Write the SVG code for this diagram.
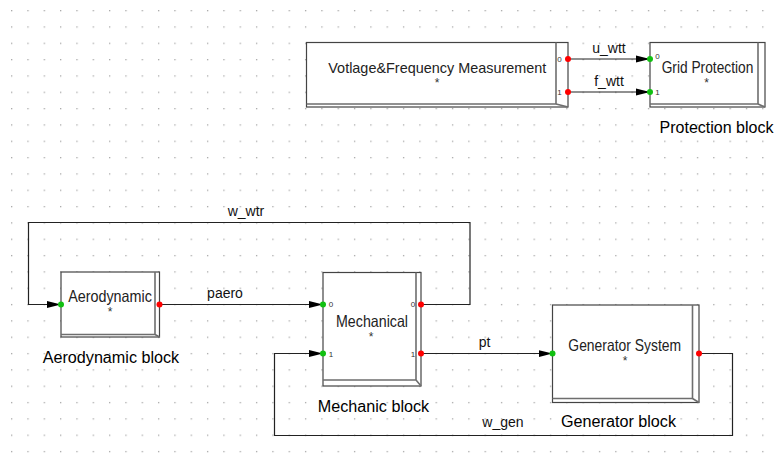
<svg xmlns="http://www.w3.org/2000/svg" width="775" height="464" viewBox="0 0 775 464">
<style>
.box{fill:#fff;stroke:#444;stroke-width:1.2}
.edge{fill:none;stroke:#6e6e6e;stroke-width:1.6}
.wire{fill:none;stroke:#222;stroke-width:1.2}
.bt{font-family:"Liberation Sans",Arial,sans-serif;font-size:16.5px;fill:#222;text-anchor:middle}
.st{font-family:"Liberation Sans",Arial,sans-serif;font-size:12px;fill:#333;text-anchor:middle}
.lb{font-family:"Liberation Sans",Arial,sans-serif;font-size:16px;fill:#000}
.cl{font-family:"Liberation Sans",Arial,sans-serif;font-size:14px;fill:#111;text-anchor:middle}
.pl{font-family:"Liberation Sans",Arial,sans-serif;font-size:8px;fill:#333;text-anchor:middle}
.in{fill:#11c011}
.out{fill:#f00}
</style>
<defs>
<pattern id="grid" patternUnits="userSpaceOnUse" x="11" y="10" width="16.33" height="16.33">
<rect x="0" y="0" width="1.3" height="1.3" fill="#a8a8a8"/>
</pattern>
<marker id="arr" markerUnits="userSpaceOnUse" markerWidth="16" markerHeight="10" refX="14" refY="4" orient="auto">
<path d="M0,0.5 L14,4 L0,7.5 Z" fill="#000"/>
</marker>
</defs>
<rect width="775" height="464" fill="#fff"/>
<rect width="775" height="464" fill="url(#grid)"/>

<g id="connectors">
<path class="wire" d="M568,59 H650" marker-end="url(#arr)"/>
<path class="wire" d="M568,92 H650" marker-end="url(#arr)"/>
<path class="wire" d="M159.5,304.5 H323" marker-end="url(#arr)"/>
<path class="wire" d="M421,353.5 H552.5" marker-end="url(#arr)"/>
<path class="wire" d="M421,304.5 H470 V222.5 H28.5 V304.5 H61" marker-end="url(#arr)"/>
<path class="wire" d="M699,353.5 H732.5 V435.5 H274.5 V353.5 H323" marker-end="url(#arr)"/>
<text class="cl" x="609" y="53">u_wtt</text>
<text class="cl" x="609" y="86">f_wtt</text>
<text class="cl" x="225" y="298">paero</text>
<text class="cl" x="484.5" y="347">pt</text>
<text class="cl" x="246" y="216">w_wtr</text>
<text class="cl" x="503" y="427">w_gen</text>
</g>

<g id="voltage">
<rect class="box" x="306.5" y="42.5" width="261.5" height="64.5"/>
<path class="edge" d="M556,42.5 V104 H306.5 M556,104 L568,107"/>
<text class="bt" x="437.3" y="73" style="font-size:15px" textLength="218" lengthAdjust="spacingAndGlyphs">Votlage&amp;Frequency Measurement</text>
<text class="st" x="437" y="86.5">*</text>
<text class="pl" x="559.5" y="62">0</text>
<text class="pl" x="559.5" y="95">1</text>
<circle class="out" cx="568" cy="59" r="3"/>
<circle class="out" cx="568" cy="92" r="3"/>
</g>

<g id="protection">
<rect class="box" x="650" y="42.5" width="115" height="64.5"/>
<path class="edge" d="M758,42.5 V104 H650 M758,104 L765,107"/>
<text class="bt" x="707.5" y="73" textLength="91.6" lengthAdjust="spacingAndGlyphs">Grid Protection</text>
<text class="st" x="706.7" y="87">*</text>
<text class="pl" x="657.5" y="59">0</text>
<text class="pl" x="657.5" y="95">1</text>
<circle class="in" cx="650" cy="59" r="3"/>
<circle class="in" cx="650" cy="92" r="3"/>
<text class="lb" x="659.5" y="132.7" textLength="114" lengthAdjust="spacingAndGlyphs">Protection block</text>
</g>

<g id="aerodynamic">
<rect class="box" x="61" y="272" width="98.5" height="65"/>
<path class="edge" d="M155,272 V334.5 H61 M155,334.5 L159.5,337"/>
<text class="bt" x="110" y="301.7" textLength="83.7" lengthAdjust="spacingAndGlyphs">Aerodynamic</text>
<text class="st" x="110" y="316">*</text>
<circle class="in" cx="61" cy="304.5" r="3"/>
<circle class="out" cx="159.5" cy="304.5" r="3"/>
<text class="lb" x="42.7" y="363.3" textLength="136.5" lengthAdjust="spacingAndGlyphs">Aerodynamic block</text>
</g>

<g id="mechanical">
<rect class="box" x="323" y="272.5" width="98" height="113.5"/>
<path class="edge" d="M416,272.5 V380 H323 M416,380 L421,386"/>
<text class="bt" x="372" y="326.7" textLength="72" lengthAdjust="spacingAndGlyphs">Mechanical</text>
<text class="st" x="371" y="341">*</text>
<text class="pl" x="331" y="307">0</text>
<text class="pl" x="331" y="356.5">1</text>
<text class="pl" x="413" y="307">0</text>
<text class="pl" x="413" y="356.5">1</text>
<circle class="in" cx="323" cy="304.5" r="3"/>
<circle class="in" cx="323" cy="353.5" r="3"/>
<circle class="out" cx="421" cy="304.5" r="3"/>
<circle class="out" cx="421" cy="353.5" r="3"/>
<text class="lb" x="317.7" y="411.7" textLength="111.5" lengthAdjust="spacingAndGlyphs">Mechanic block</text>
</g>

<g id="generator">
<rect class="box" x="552.5" y="305" width="146.5" height="97.5"/>
<path class="edge" d="M692.5,305 V398.5 H552.5 M692.5,398.5 L699,402.5"/>
<text class="bt" x="624.7" y="350.7" textLength="112.7" lengthAdjust="spacingAndGlyphs">Generator System</text>
<text class="st" x="625" y="364.7">*</text>
<circle class="in" cx="552.5" cy="353.5" r="3"/>
<circle class="out" cx="699" cy="353.5" r="3"/>
<text class="lb" x="561" y="427.3" textLength="115" lengthAdjust="spacingAndGlyphs">Generator block</text>
</g>
</svg>
